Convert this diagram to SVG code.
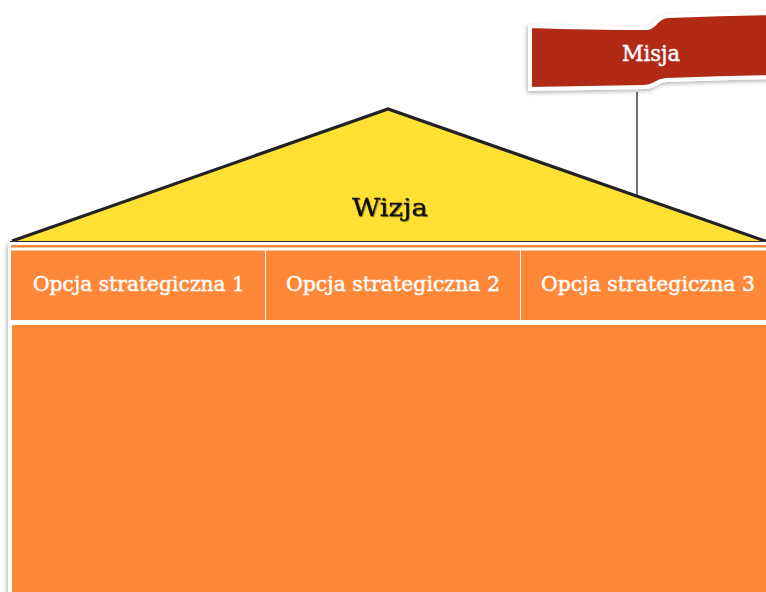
<svg xmlns="http://www.w3.org/2000/svg" width="766" height="592" viewBox="0 0 766 592">
<defs>
<style>
.lbl{font-family:"DejaVu Serif","Liberation Serif",serif;fill:#ffffff;stroke:#ffffff;stroke-width:0.45;text-anchor:middle}
.cell{fill:#FF8838}
</style>
<filter id="sh" x="-10%" y="-10%" width="130%" height="140%">
<feDropShadow dx="-1" dy="2" stdDeviation="2" flood-color="#000" flood-opacity="0.3"/>
</filter>
<filter id="tsh" x="-10%" y="-10%" width="130%" height="140%">
<feDropShadow dx="1" dy="1" stdDeviation="0.6" flood-color="#000" flood-opacity="0.35"/>
</filter>
</defs>
<rect width="766" height="592" fill="#ffffff"/>

<g id="connectors">
<line x1="637" y1="92" x2="637" y2="195" stroke="#222" stroke-width="1.3"/>
</g>

<g id="wizja">
<path d="M 12 241 L 388 109 L 766 241 Z" fill="#FFE033"/>
<path d="M 12 241 L 388 109 L 768 242" fill="none" stroke="#222" stroke-width="3.2" stroke-linejoin="miter"/>
<line x1="10" y1="241.5" x2="766" y2="241.5" stroke="#333" stroke-width="1.2"/>
<text x="390" y="216" font-family="DejaVu Serif, Liberation Serif, serif" font-size="25" fill="#111" stroke="#111" stroke-width="0.3" text-anchor="middle" textLength="76" lengthAdjust="spacingAndGlyphs" filter="url(#tsh)">Wizja</text>
</g>

<g id="misja">
<path d="M 530 26 Q 590 28 646 28 C 656 28 655 17 668 16 Q 720 14 772 13 L 772 77 Q 720 78 666 80 C 654 81 656 87 644 87 Q 590 88 530 89 Z" fill="#B02A17" stroke="#ffffff" stroke-width="4" filter="url(#sh)"/>
<text class="lbl" x="651" y="61" font-size="22" textLength="58" lengthAdjust="spacingAndGlyphs">Misja</text>
</g>

<g id="box">
<rect x="8" y="242" width="780" height="360" fill="#ffffff" filter="url(#sh)"/>
<rect x="11" y="245" width="770" height="2.5" class="cell"/>
<rect x="12" y="325" width="770" height="280" class="cell"/>
</g>

<g id="opcja1">
<rect x="11" y="250.5" width="254" height="69.5" class="cell"/>
<text class="lbl" x="139" y="291" font-size="21" textLength="212" lengthAdjust="spacingAndGlyphs">Opcja strategiczna 1</text>
</g>
<g id="opcja2">
<rect x="266" y="250.5" width="254" height="69.5" class="cell"/>
<text class="lbl" x="393" y="291" font-size="21" textLength="214" lengthAdjust="spacingAndGlyphs">Opcja strategiczna 2</text>
</g>
<g id="opcja3">
<rect x="521" y="250.5" width="260" height="69.5" class="cell"/>
<text class="lbl" x="648" y="291" font-size="21" textLength="214" lengthAdjust="spacingAndGlyphs">Opcja strategiczna 3</text>
</g>
</svg>
